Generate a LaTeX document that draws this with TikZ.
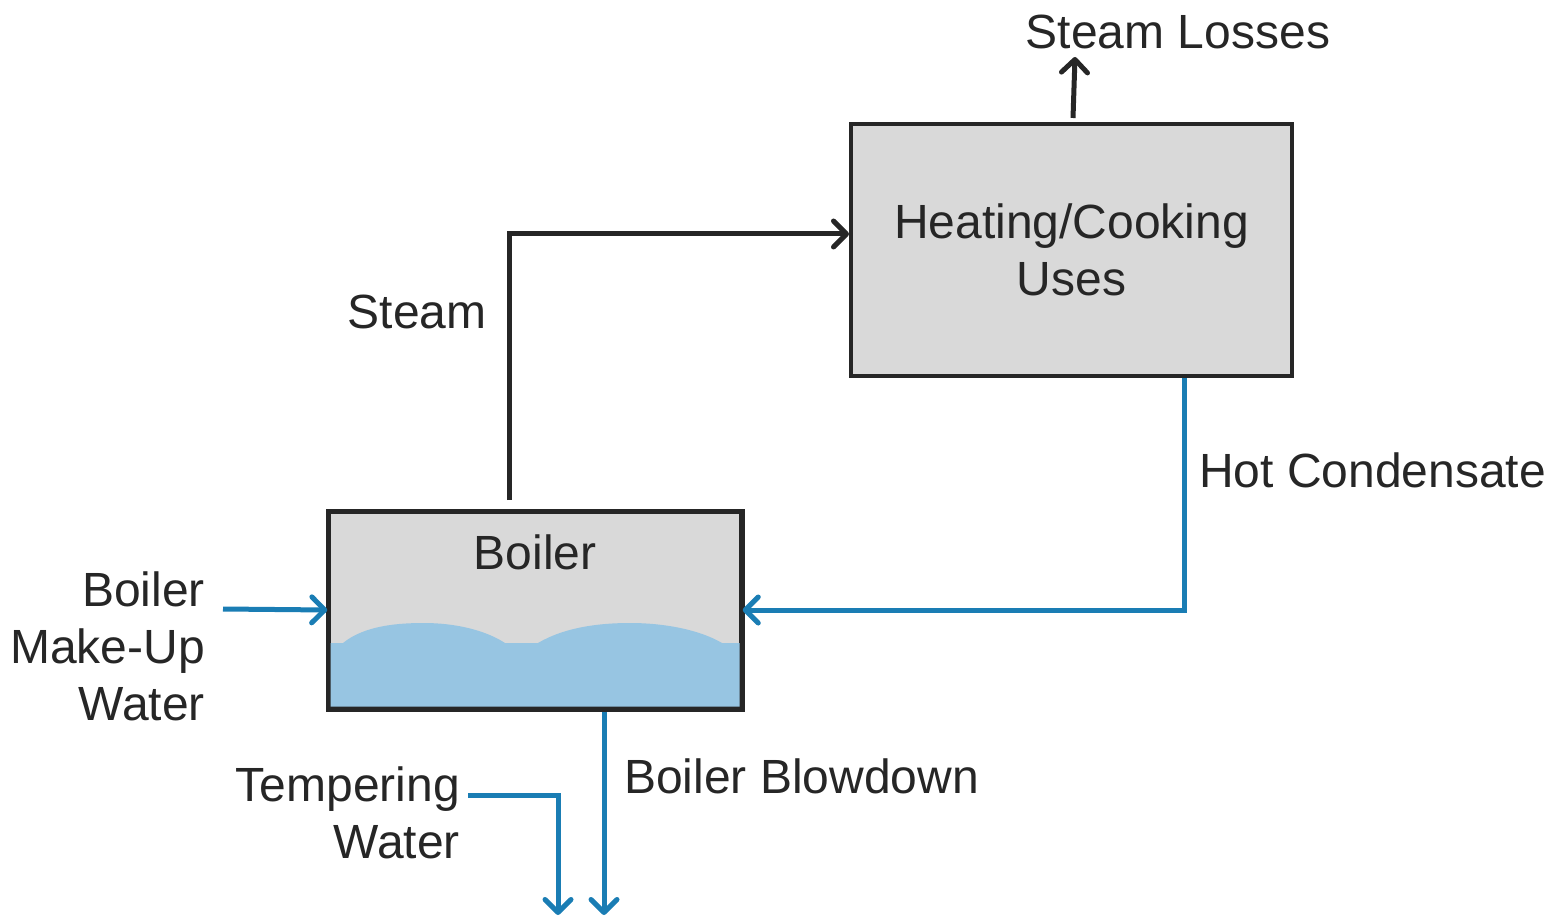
\documentclass[tikz,border=0pt]{standalone}
\usepackage{fontspec}
\setmainfont{Liberation Sans}
\usetikzlibrary{arrows.meta,calc}
\definecolor{txt}{HTML}{262626}
\definecolor{boxfill}{HTML}{D9D9D9}
\definecolor{flowblue}{HTML}{1A7DB4}
\definecolor{water}{HTML}{97C5E2}
\begin{document}
\begin{tikzpicture}[x=1pt,y=-1pt,
  lbl/.style={font=\fontsize{48}{57}\selectfont, text=txt, inner sep=0pt},
  procbox/.style={draw=txt, fill=boxfill, line width=4pt, inner sep=0pt},
  tip/.style={-{Straight Barb[length=13pt,width=26pt,round,line width=5pt]}},
  darkflow/.style={draw=txt, line width=5pt, tip},
  blueflow/.style={draw=flowblue, line width=5pt, tip}]
\useasboundingbox (0,0) rectangle (1552,917);

% boxes
\node[procbox, minimum width=441pt, minimum height=252pt] (heat) at (1071.5,250) {};
\node[lbl, align=center] (heattxt) at (1071.5,250) {Heating/Cooking\\Uses};

\node[procbox, line width=3.5pt, minimum width=412pt, minimum height=196pt] (boiler) at (535,610) {};
% water
\fill[water] (330.5,643) -- (343,643)
  .. controls (365,625) and (400,623) .. (424,623)
  .. controls (455,623) and (485,630) .. (505,643)
  -- (538,643)
  .. controls (565,627) and (600,623) .. (630,623)
  .. controls (665,623) and (700,630) .. (722,643)
  -- (739.5,643) -- (739.5,706.5) -- (330.5,706.5) -- cycle;
\draw[draw=txt, line width=3.5pt] (boiler.south west) rectangle (boiler.north east);
\node[lbl] (boilertxt) at (535,552) {Boiler};

% coordinates for free ends
\coordinate (steamstart) at (509,500);
\coordinate (losstop) at (1075,57);
\coordinate (lossbot) at (1073,118);
\coordinate (mustart) at (223,609);
\coordinate (bdtop) at (604,712);
\coordinate (bdbot) at (604,915);
\coordinate (twstart) at (468,795);
\coordinate (twbot) at (558,915);
\coordinate (hcx) at (1184,376);

% connectors
\draw[darkflow] (steamstart) |- ([yshift=16pt]heat.west);
\draw[darkflow] (lossbot) -- (losstop);
\draw[blueflow] (heat.south -| hcx) |- (boiler.east);
\draw[blueflow] (mustart) -- (boiler.west);
\draw[blueflow] (bdtop) -- (bdbot);
\draw[blueflow] (twstart) -| (twbot);

% labels
\node[lbl] (losslbl) at (1178,32) {Steam Losses};
\node[lbl] (steamlbl) at (417,312) {Steam};
\node[lbl, anchor=west] (hclbl) at (1199,470) {Hot Condensate};
\node[lbl, anchor=east, align=right] (mulbl) at (205,646) {Boiler\\Make-Up\\Water};
\node[lbl, anchor=west] (bdlbl) at (624,776) {Boiler Blowdown};
\node[lbl, anchor=east, align=right] (twlbl) at (460,813) {Tempering\\Water};
\end{tikzpicture}
\end{document}
